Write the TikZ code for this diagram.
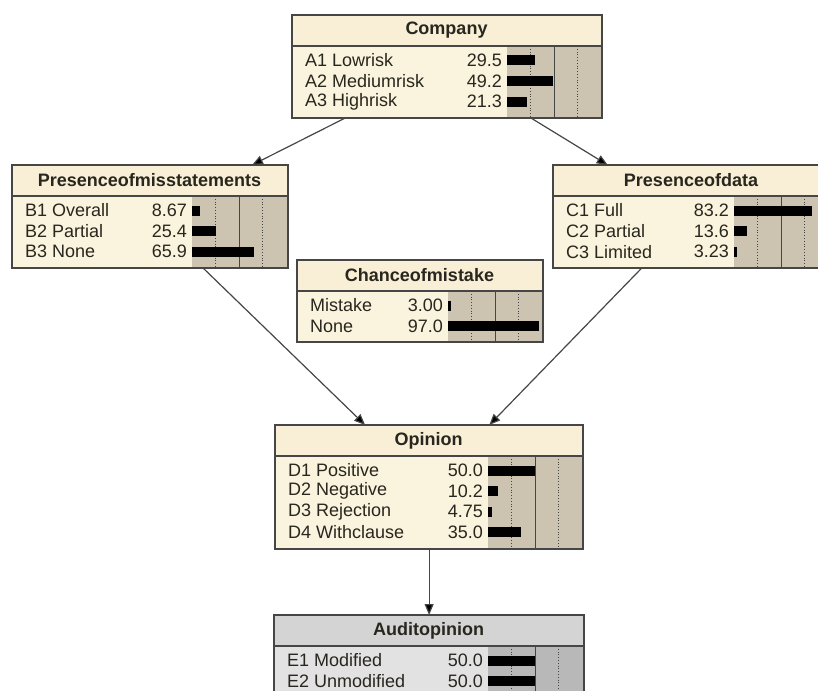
\documentclass[tikz,border=0pt]{standalone}
\usepackage{fontspec}
\setmainfont{Liberation Sans}
\usetikzlibrary{arrows.meta}

\definecolor{creambody}{RGB}{250,243,221}
\definecolor{creamhead}{RGB}{248,239,214}
\definecolor{creambar}{RGB}{204,196,177}
\definecolor{graybody}{RGB}{226,226,226}
\definecolor{grayhead}{RGB}{212,212,212}
\definecolor{graybar}{RGB}{184,184,184}
\definecolor{edgecol}{RGB}{70,70,70}
\definecolor{textcol}{RGB}{40,38,30}

% #1 colour set, #2 name, #3 left, #4 top, #5 width, #6 label width,
% #7 number of states, #8 title, #9 states as label/belief
\newcommand{\beliefnode}[9][cream]{%
  \pgfmathsetmacro{\bnright}{#3+#5}
  \pgfmathsetmacro{\bnbarl}{#3+#6}
  \pgfmathsetmacro{\bnline}{#4+31}
  \pgfmathsetmacro{\bnheight}{39+21*#7}
  \pgfmathsetmacro{\bnbottom}{#4+\bnheight}
  \pgfmathsetmacro{\bnmid}{#3+#5/2}
  \node[netbox,fill=#1body,minimum width=#5pt,minimum height=\bnheight pt,
        anchor=north west] (#2) at (#3,#4) {};
  \fill[#1head] (#3,#4) rectangle (\bnright,\bnline);
  \fill[#1bar] (\bnbarl,\bnline) rectangle (\bnright,\bnbottom);
  \foreach \g in {23.5,70.5}
    \draw[gridline,dotted] (\bnbarl+\g,\bnline) -- (\bnbarl+\g,\bnbottom);
  \draw[gridline] (\bnbarl+47,\bnline) -- (\bnbarl+47,\bnbottom);
  \draw[netbox] (#3,\bnline) -- (\bnright,\bnline);
  \node[titletext] at (\bnmid,#4+15.5) {#8};
  \foreach \lab/\val [count=\i] in {#9} {
    \pgfmathsetmacro{\rowy}{#4+45.5+20.6*(\i-1)}
    \node[statetext,anchor=west] at (#3+13,\rowy) {\lab};
    \node[statetext,anchor=east] at (\bnbarl-5,\rowy) {\val};
    \fill[black] (\bnbarl,\rowy-5) rectangle (\bnbarl+0.94*\val,\rowy+5);
  }
  \draw[netbox] (#2.north west) rectangle (#2.south east);
}

\begin{document}
\begin{tikzpicture}[x=1pt,y=-1pt,>={Triangle[length=11pt,width=9pt]}]
  \tikzstyle{netbox}=[draw=edgecol,line width=1.2pt,rectangle,inner sep=0pt]
  \tikzstyle{gridline}=[draw=edgecol,line width=0.8pt]
  \tikzstyle{titletext}=[font=\bfseries\fontsize{18}{20}\selectfont,text=textcol,inner sep=0pt]
  \tikzstyle{statetext}=[font=\fontsize{18}{20}\selectfont,text=textcol,inner sep=0pt]
  \tikzstyle{link}=[->,draw=edgecol,line width=1.2pt]

  \useasboundingbox (0,0) rectangle (818,690);
  \clip (0,0) rectangle (818,690);

  \beliefnode{company}{292}{15}{309}{215}{3}{Company}
    {A1 Lowrisk/29.5, A2 Mediumrisk/49.2, A3 Highrisk/21.3}
  \beliefnode{misstate}{12}{165}{275}{180}{3}{Presenceofmisstatements}
    {B1 Overall/8.67, B2 Partial/25.4, B3 None/65.9}
  \beliefnode{data}{553}{165}{276}{181}{3}{Presenceofdata}
    {C1 Full/83.2, C2 Partial/13.6, C3 Limited/3.23}
  \beliefnode{mistake}{297}{260}{245}{151}{2}{Chanceofmistake}
    {Mistake/3.00, None/97.0}
  \beliefnode{opinion}{275}{425}{307}{213}{4}{Opinion}
    {D1 Positive/50.0, D2 Negative/10.2, D3 Rejection/4.75, D4 Withclause/35.0}
  \beliefnode[gray]{audit}{274}{615}{309}{214}{2}{Auditopinion}
    {E1 Modified/50.0, E2 Unmodified/50.0}

  \path[link] (company) edge (misstate)
              (company) edge (data)
              (misstate) edge (opinion)
              (data) edge (opinion)
              (opinion) edge (audit);
\end{tikzpicture}
\end{document}
